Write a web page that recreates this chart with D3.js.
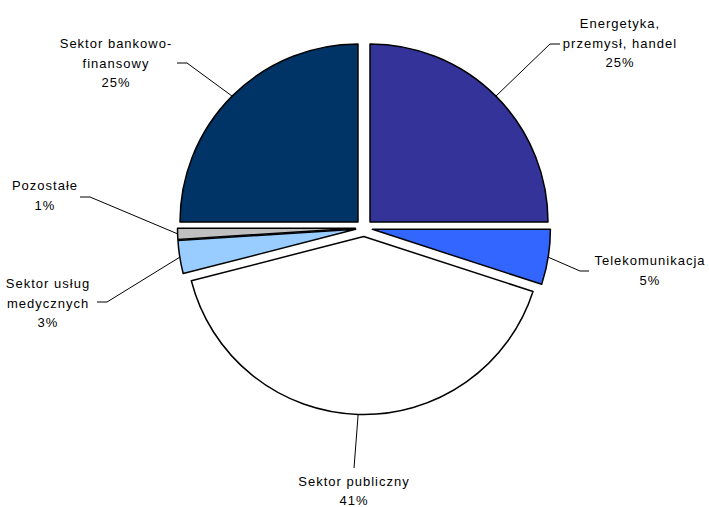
<!DOCTYPE html>
<html>
<head>
<meta charset="utf-8">
<script src="https://cdn.jsdelivr.net/npm/d3@7"></script>
<style>
  body { margin: 0; background: #fff; }
  svg text { font-family: "Liberation Sans", Arial, sans-serif; font-size: 13px; letter-spacing: 1px; fill: #000; }
</style>
</head>
<body>
<svg id="chart" width="709" height="507"></svg>
<script>
// data
var categories = ["Energetyka,\nprzemysł, handel", "Telekomunikacja", "Sektor publiczny",
                  "Sektor usług\nmedycznych", "Pozostałe", "Sektor bankowo-\nfinansowy"];
var values = [25, 5, 41, 3, 1, 25];
var colors = ["#333399", "#3366ff", "#ffffff", "#99ccff", "#c0c0c0", "#003366"];

// label placement (text centre x, first baseline y, line gap, leader elbow, leader end)
var labelPos = [
  {x: 620, y: 28,  gap: 19.5, elbow: [550, 44],  end: [560, 44]},
  {x: 650, y: 265, gap: 19.5, elbow: [580, 271], end: [589, 271]},
  {x: 354, y: 486, gap: 18.5, elbow: [354, 468], end: [354, 468]},
  {x: 48,  y: 288, gap: 19.5, elbow: [107, 302], end: [97, 302]},
  {x: 45,  y: 190, gap: 19.5, elbow: [90, 197],  end: [80, 197]},
  {x: 116, y: 48,  gap: 19.5, elbow: [187, 63],  end: [177, 63]}
];

var svg = d3.select("#chart");
var cx = 364, cy = 228, r = 178, explode = 8.5;

var pie = d3.pie().sort(null).value(function(d) { return d; });
var arcs = pie(values);
var total = d3.sum(values);

var arc = d3.arc().innerRadius(0).outerRadius(r);

var g = svg.append("g").attr("transform", "translate(" + cx + "," + cy + ")");

function mid(d) { return (d.startAngle + d.endAngle) / 2; }

g.selectAll("path.slice")
  .data(arcs)
  .enter().append("path")
  .attr("class", "slice")
  .attr("d", arc)
  .attr("transform", function(d) {
    var a = mid(d);
    return "translate(" + (explode * Math.sin(a)) + "," + (-explode * Math.cos(a)) + ")";
  })
  .attr("fill", function(d, i) { return colors[i]; })
  .attr("stroke", "#000")
  .attr("stroke-width", 1.5)
  .attr("stroke-linejoin", "round");

// leader lines
arcs.forEach(function(d, i) {
  var a = mid(d);
  var px = cx + (explode + r) * Math.sin(a);
  var py = cy - (explode + r) * Math.cos(a);
  var lp = labelPos[i];
  svg.append("polyline")
    .attr("points", [[px, py], lp.elbow, lp.end].map(function(p) { return p.join(","); }).join(" "))
    .attr("fill", "none")
    .attr("stroke", "#000")
    .attr("stroke-width", 1);
});

// labels
arcs.forEach(function(d, i) {
  var lp = labelPos[i];
  var lines = categories[i].split("\n");
  lines.push(Math.round(d.value / total * 100) + "%");
  var t = svg.append("text")
    .attr("text-anchor", "middle");
  lines.forEach(function(s, k) {
    t.append("tspan")
      .attr("x", lp.x)
      .attr("y", lp.y + k * lp.gap)
      .text(s);
  });
});
</script>
</body>
</html>
